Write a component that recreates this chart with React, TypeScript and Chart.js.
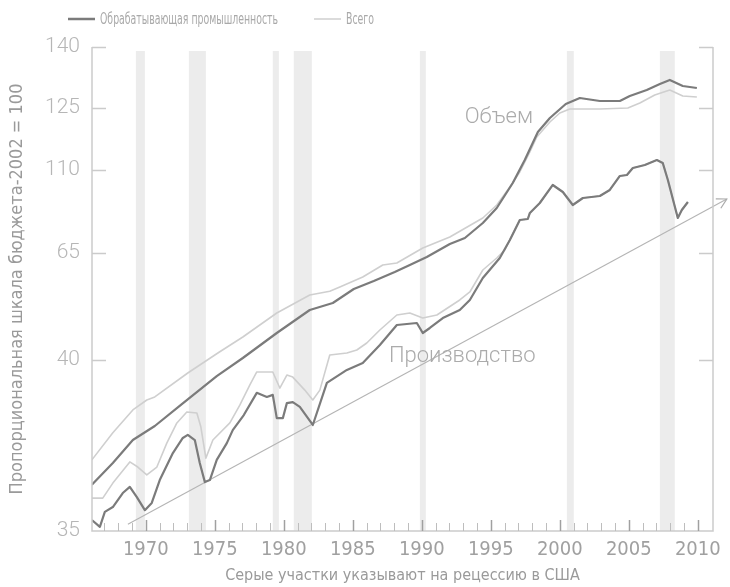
import React, { useEffect, useRef } from 'react';
import { Chart, LinearScale, registerables } from 'chart.js';

// ---------------- data ----------------
const legendLabels = ['Обрабатывающая промышленность', 'Всего'];
const yTickValues = [35, 40, 65, 110, 125, 140];
const xTickYears = [1967, 1968, 1969, 1970, 1971, 1972, 1973, 1974, 1975, 1976, 1977, 1978, 1979, 1980, 1981, 1982, 1983, 1984, 1985, 1986, 1987, 1988, 1989, 1990, 1991, 1992, 1993, 1994, 1995, 1996, 1997, 1998, 1999, 2000, 2001, 2002, 2003, 2004, 2005, 2006, 2007, 2008, 2009, 2010];
const recessions = [[1969.28, 1969.93], [1973.12, 1974.35], [1979.2, 1979.64], [1980.72, 1982.03], [1989.86, 1990.29], [2000.51, 2001.01], [2007.25, 2008.33]];

const volumeManufYears = [1966.09, 1967.61, 1969.06, 1970.65, 1972.61, 1975.14, 1977.03, 1979.49, 1981.88, 1983.55, 1985.07, 1986.52, 1988.04, 1989.13, 1990.36, 1992.03, 1993.12, 1994.42, 1995.43, 1996.59, 1997.46, 1998.41, 1999.28, 2000.43, 2001.45, 2002.9, 2004.35, 2005.07, 2006.3, 2007.25, 2007.97, 2008.91, 2009.93];
const volumeManufValues = [36.35, 36.99, 37.66, 38.07, 38.71, 39.53, 40.47, 46.31, 51.68, 53.32, 56.59, 58.46, 60.56, 62.2, 64.07, 69.88, 73.13, 81.27, 89.4, 102.95, 112.42, 119.19, 122.58, 125.98, 127.46, 126.72, 126.72, 127.95, 129.43, 130.9, 131.89, 130.41, 129.92];

const volumeTotalYears = [1966.09, 1967.61, 1969.06, 1970.07, 1970.65, 1973.04, 1975.22, 1977.03, 1979.49, 1981.88, 1983.33, 1984.06, 1985.72, 1987.17, 1988.19, 1990.07, 1992.03, 1994.42, 1995.43, 1996.38, 1997.1, 1997.83, 1998.33, 1999.28, 2000.0, 2000.72, 2002.9, 2004.93, 2005.8, 2006.88, 2007.97, 2008.91, 2009.93];
const volumeTotalValues = [37.08, 37.87, 38.54, 38.83, 38.92, 39.62, 41.64, 45.37, 50.98, 55.19, 56.07, 57.06, 59.39, 62.2, 62.66, 67.71, 73.67, 83.98, 91.02, 100.78, 108.92, 114.35, 117.98, 121.61, 123.79, 124.76, 124.76, 125.0, 126.23, 128.2, 129.43, 127.95, 127.7];

const productionManufYears = [1966.09, 1966.67, 1967.03, 1967.61, 1968.33, 1968.84, 1969.35, 1969.93, 1970.43, 1971.01, 1971.96, 1972.68, 1973.04, 1973.55, 1973.91, 1974.28, 1974.64, 1975.14, 1975.87, 1976.3, 1977.1, 1978.04, 1978.77, 1979.2, 1979.49, 1979.93, 1980.22, 1980.65, 1981.16, 1982.1, 1983.12, 1984.57, 1985.72, 1986.96, 1988.19, 1989.64, 1990.07, 1990.58, 1991.52, 1992.75, 1993.48, 1994.42, 1995.65, 1996.38, 1997.1, 1997.68, 1997.83, 1998.55, 1999.49, 2000.22, 2000.94, 2001.67, 2002.9, 2003.62, 2004.35, 2004.86, 2005.29, 2006.16, 2007.03, 2007.46, 2007.83, 2008.55, 2008.84, 2009.28];
const productionManufValues = [35.32, 35.12, 35.56, 35.7, 36.11, 36.29, 35.99, 35.61, 35.82, 36.49, 37.28, 37.72, 37.81, 37.66, 36.99, 36.43, 36.49, 37.08, 37.57, 37.95, 38.39, 39.04, 38.92, 38.98, 38.3, 38.3, 38.74, 38.77, 38.63, 38.1, 39.33, 39.71, 39.91, 43.5, 48.18, 48.64, 46.31, 47.48, 49.81, 51.68, 54.02, 59.16, 63.83, 72.05, 82.89, 83.43, 86.69, 92.11, 101.87, 98.07, 91.02, 94.82, 95.9, 99.16, 106.75, 107.29, 110.48, 111.21, 112.42, 111.69, 104.58, 83.98, 88.31, 92.65];

const productionTotalYears = [1966.09, 1966.88, 1967.61, 1968.84, 1969.42, 1970.07, 1970.8, 1971.52, 1972.25, 1972.97, 1973.7, 1973.99, 1974.2, 1974.35, 1974.86, 1976.09, 1976.81, 1977.54, 1978.04, 1979.2, 1979.71, 1980.22, 1980.65, 1981.52, 1982.1, 1982.61, 1983.33, 1984.57, 1985.29, 1986.01, 1986.96, 1988.19, 1989.13, 1990.07, 1991.09, 1992.75, 1993.48, 1994.42, 1995.43, 1996.01, 1996.38, 1997.1, 1997.68, 1997.83, 1998.55, 1999.49, 2000.22, 2000.94, 2001.67, 2002.9, 2003.62, 2004.35, 2004.86, 2005.29, 2006.16, 2007.03, 2007.46, 2007.83, 2008.55, 2008.84, 2009.28];
const productionTotalValues = [35.96, 35.96, 36.4, 37.02, 36.87, 36.64, 36.87, 37.57, 38.16, 38.48, 38.45, 38.04, 37.51, 37.13, 37.66, 38.16, 38.68, 39.27, 39.65, 39.65, 39.18, 39.56, 39.5, 39.12, 38.83, 39.12, 41.17, 41.64, 42.34, 43.97, 47.01, 50.51, 50.98, 49.81, 50.51, 54.02, 55.89, 61.03, 63.83, 66.63, 72.05, 82.89, 83.43, 86.69, 92.11, 101.87, 98.07, 91.02, 94.82, 95.9, 99.16, 106.75, 107.29, 110.48, 111.21, 112.42, 111.69, 104.58, 83.98, 88.31, 92.65];

const trendYears = [1968.7, 2012.1];
const trendValues = [35.2, 94.28];

const annotations = [
  { text: 'Объем', year: 1995.58, value: 122.58 },
  { text: 'Производство', year: 1992.93, value: 40.93 },
];

// ---------------- styling ----------------
const DARK = '#7b7b7b';
const LIGHT = '#cfcfcf';
const AXIS = '#cbcbcb';
const NARROW = "'DejaVu Sans Condensed', 'Liberation Sans Narrow', sans-serif";
const LIGHTFONT = "Roboto, 'DejaVu Sans', sans-serif";
// relative vertical position of each y tick on the proportional axis
const yTickPositions = [0, 0.3533, 0.5744, 0.7459, 0.874, 1];

function valueToDecimal(v: number): number {
  const t = yTickValues, p = yTickPositions;
  if (v <= t[0]) return p[0] + (v - t[0]) * (p[1] - p[0]) / (t[1] - t[0]);
  for (let i = 0; i < t.length - 1; i++) {
    if (v <= t[i + 1]) return p[i] + (v - t[i]) * (p[i + 1] - p[i]) / (t[i + 1] - t[i]);
  }
  const n = t.length - 1;
  return p[n] + (v - t[n]) * (p[n] - p[n - 1]) / (t[n] - t[n - 1]);
}
function decimalToValue(d: number): number {
  const t = yTickValues, p = yTickPositions;
  for (let i = 0; i < p.length - 1; i++) {
    if (d <= p[i + 1] || i === p.length - 2) return t[i] + (d - p[i]) * (t[i + 1] - t[i]) / (p[i + 1] - p[i]);
  }
  return t[t.length - 1];
}

class PiecewiseScale extends LinearScale {
  static id = 'piecewise';
  buildTicks() {
    return yTickValues.map((v) => ({ value: v }));
  }
  getPixelForValue(value: number) {
    return (this as any).getPixelForDecimal(valueToDecimal(value));
  }
  getValueForPixel(pixel: number) {
    return decimalToValue((this as any).getDecimalForPixel(pixel));
  }
}

Chart.register(...registerables, PiecewiseScale as any);

const pts = (xs: number[], ys: number[]) => xs.map((x, i) => ({ x, y: ys[i] }));

const decorPlugin = {
  id: 'decor',
  beforeDatasetsDraw(chart: any) {
    const { ctx, chartArea: a, scales } = chart;
    const x = scales.x;
    ctx.save();
    ctx.fillStyle = '#ececec';
    for (const [s, e] of recessions) {
      const x0 = x.getPixelForValue(s);
      const x1 = x.getPixelForValue(e);
      ctx.fillRect(x0, a.top + 4, x1 - x0, a.bottom - a.top - 4);
    }
    ctx.restore();
  },
  afterDatasetsDraw(chart: any) {
    const { ctx, chartArea: a, scales } = chart;
    const x = scales.x, y = scales.y;
    ctx.save();
    // axis frame (left, bottom, right)
    ctx.strokeStyle = AXIS;
    ctx.lineWidth = 1.5;
    ctx.beginPath();
    ctx.moveTo(a.left, a.top);
    ctx.lineTo(a.left, a.bottom);
    ctx.lineTo(a.right, a.bottom);
    ctx.lineTo(a.right, a.top);
    ctx.stroke();
    // y ticks (inward, both sides)
    ctx.lineWidth = 1.5;
    for (const t of y.ticks) {
      if (t.value === yTickValues[0]) continue;
      const py = Math.round(y.getPixelForValue(t.value)) + 0.5;
      ctx.beginPath();
      ctx.moveTo(a.left, py);
      ctx.lineTo(a.left + 14, py);
      ctx.moveTo(a.right, py);
      ctx.lineTo(a.right - 14, py);
      ctx.stroke();
    }
    // x ticks (inward)
    for (const t of x.ticks) {
      const major = t.value % 5 === 0;
      const px = Math.round(x.getPixelForValue(t.value)) + 0.5;
      ctx.strokeStyle = major ? '#a0a0a0' : '#bdbdbd';
      ctx.lineWidth = major ? 1.5 : 1;
      ctx.beginPath();
      ctx.moveTo(px, a.bottom);
      ctx.lineTo(px, a.bottom - (major ? 11 : 8));
      ctx.stroke();
    }
    // arrow head on trend line
    const meta = chart.getDatasetMeta(4);
    const d = meta.data;
    if (d.length >= 2) {
      const p1 = d[d.length - 1], p0 = d[d.length - 2];
      const ang = Math.atan2(p1.y - p0.y, p1.x - p0.x);
      ctx.strokeStyle = '#ababab';
      ctx.lineWidth = 1.2;
      ctx.beginPath();
      ctx.moveTo(p1.x - 11 * Math.cos(ang - 0.5), p1.y - 11 * Math.sin(ang - 0.5));
      ctx.lineTo(p1.x, p1.y);
      ctx.lineTo(p1.x - 11 * Math.cos(ang + 0.5), p1.y - 11 * Math.sin(ang + 0.5));
      ctx.stroke();
    }
    // annotations
    ctx.fillStyle = '#ababab';
    ctx.font = `300 22px ${LIGHTFONT}`;
    ctx.textAlign = 'center';
    ctx.textBaseline = 'middle';
    for (const an of annotations) {
      ctx.fillText(an.text, x.getPixelForValue(an.year), y.getPixelForValue(an.value));
    }
    // legend (narrow lettering)
    ctx.font = `16px ${NARROW}`;
    ctx.textAlign = 'left';
    const squeeze = 0.65;
    let lx = 68;
    const ly = 19;
    const colors = [DARK, LIGHT];
    const widths = [2.5, 1.5];
    legendLabels.forEach((lab, i) => {
      ctx.strokeStyle = colors[i];
      ctx.lineWidth = widths[i];
      ctx.beginPath();
      ctx.moveTo(lx, ly);
      ctx.lineTo(lx + 27, ly);
      ctx.stroke();
      ctx.fillStyle = '#a9a9a9';
      ctx.save();
      ctx.translate(lx + 32, ly + 1);
      ctx.scale(squeeze, 1);
      ctx.fillText(lab, 0, 0);
      ctx.restore();
      lx += 32 + ctx.measureText(lab).width * squeeze + 36;
    });
    ctx.restore();
  },
};

export default function App() {
  const ref = useRef<HTMLCanvasElement>(null);
  useEffect(() => {
    if (!ref.current) return;
    const line = (data: any, color: string, width: number, extra: any = {}) => ({
      data,
      borderColor: color,
      backgroundColor: color,
      borderWidth: width,
      pointRadius: 0,
      tension: 0,
      borderJoinStyle: 'round',
      ...extra,
    });
    const chart = new Chart(ref.current, {
      type: 'line',
      data: {
        datasets: [
          line(pts(volumeManufYears, volumeManufValues), DARK, 2.2),
          line(pts(productionManufYears, productionManufValues), DARK, 2.2),
          line(pts(volumeTotalYears, volumeTotalValues), LIGHT, 1.6),
          line(pts(productionTotalYears, productionTotalValues), LIGHT, 1.6),
          line(pts(trendYears, trendValues), '#b4b4b4', 1.1, { clip: false }),
        ],
      },
      options: {
        animation: false,
        responsive: true,
        maintainAspectRatio: false,
        events: [],
        layout: { padding: { left: 0, right: 17, top: 47, bottom: 0 } },
        plugins: { legend: { display: false }, tooltip: { enabled: false } },
        scales: {
          x: {
            type: 'linear',
            min: 1966.1,
            max: 2011.1,
            afterBuildTicks: (s: any) => {
              s.ticks = xTickYears.map((v) => ({ value: v }));
            },
            afterFit: (s: any) => {
              s.height = 56;
            },
            grid: { display: false, drawTicks: false },
            border: { display: false },
            ticks: {
              autoSkip: false,
              maxRotation: 0,
              padding: 7,
              color: '#a0a0a0',
              font: { family: NARROW, size: 20 },
              callback: (v: any) => (Number(v) % 5 === 0 ? String(v) : ''),
            },
            title: {
              display: true,
              text: 'Серые участки указывают на рецессию в США',
              color: '#9a9a9a',
              font: { family: NARROW, size: 16 },
              padding: { top: 0, bottom: 2 },
            },
          },
          y: {
            type: 'piecewise' as any,
            min: 35,
            max: 140,
            afterFit: (s: any) => {
              s.width = 92;
            },
            grid: { display: false, drawTicks: false },
            border: { display: false },
            ticks: {
              autoSkip: false,
              padding: 12,
              color: '#b6b6b6',
              font: { family: LIGHTFONT, size: 21, weight: '300' },
              callback: (v: any) => String(v),
            },
            title: {
              display: true,
              text: 'Пропорциональная шкала бюджета-2002 = 100',
              color: '#9a9a9a',
              font: { family: NARROW, size: 18 },
              padding: { top: 7, bottom: 0 },
            },
          },
        },
      } as any,
      plugins: [decorPlugin],
    } as any);
    return () => chart.destroy();
  }, []);
  return (
    <div style={{ position: 'fixed', left: 0, top: 0, width: 730, height: 587, background: '#fff' }}>
      <canvas ref={ref} />
    </div>
  );
}
